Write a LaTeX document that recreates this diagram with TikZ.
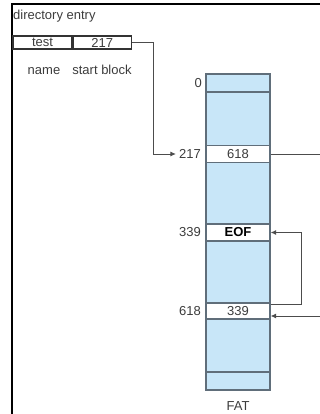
\documentclass[tikz,border=0pt]{standalone}
\usepackage{fontspec}
\setmainfont{Liberation Sans}
\usetikzlibrary{arrows.meta}

\definecolor{fatblue}{RGB}{200,230,248}
\definecolor{fatline}{RGB}{96,110,122}
\definecolor{inkgray}{RGB}{60,60,60}

\begin{document}
\begin{tikzpicture}[x=1pt, y=-1pt,
  font=\fontsize{13}{15}\selectfont,
  txt/.style={text=inkgray, inner sep=0pt},
  num/.style={txt, anchor=east},
  entry/.style={draw=black!80, line width=1.2pt, minimum height=13pt,
                inner sep=0pt, text=inkgray},
  fatcol/.style={draw=fatline, fill=fatblue, line width=1.2pt,
                 minimum width=64pt, inner sep=0pt},
  fatcell/.style={draw=fatline, fill=white, line width=1.2pt,
                  minimum width=64pt, minimum height=17pt, inner sep=0pt,
                  text=inkgray},
  link/.style={draw=black!70, line width=1pt, -{Latex[length=5.5pt,width=5pt]}},
  plain/.style={draw=black!70, line width=1pt}
]
\useasboundingbox (0,0) rectangle (320,414);

% frame
\draw[line width=1.4pt] (12,414) |- (320,4);

% directory entry
\node[txt, anchor=west] (dirlbl) at (13,16) {directory entry};
\node[entry, minimum width=59pt] (fname) at (42.5,42.5) {test};
\node[entry, minimum width=58pt, anchor=west] (fblock) at (fname.east) {217};
\node[txt, anchor=base] (namelbl) at (44,75) {name};
\node[txt, anchor=base] (blocklbl) at (102,75) {start block};

% FAT column
\node[fatcol, minimum height=316pt] (fat) at (238,232) {};
\draw[fatline, line width=1.2pt] (206,92) -- (270,92);
\draw[fatline, line width=1.2pt] (206,372) -- (270,372);
\node[fatcell] (c217) at (238,154) {618};
\node[fatcell] (c339) at (238,232.5) {\textcolor{black}{\bfseries EOF}};
\node[fatcell, minimum height=16pt] (c618) at (238,311) {339};
\node[txt] (fatlbl) at (238,406) {FAT};

% block numbers
\node[num] (l0) at (202,83) {0};
\node[num] (l217) at (201,154) {217};
\node[num] (l339) at (201,232.5) {339};
\node[num] (l618) at (201,311) {618};

% chain
\coordinate (out217) at (320,154);
\coordinate (in618) at (320,316);
\draw[link, shorten >=3pt] (fblock.east) -- ++(22,0) |- (l217.west);
\draw[plain] (c217.east) -- (out217);
\draw[link] ([yshift=-2pt]c618.north east) -- ++(31,0) |- (c339.east);
\draw[link] (in618) -- (in618 -| c618.east);
\end{tikzpicture}
\end{document}
